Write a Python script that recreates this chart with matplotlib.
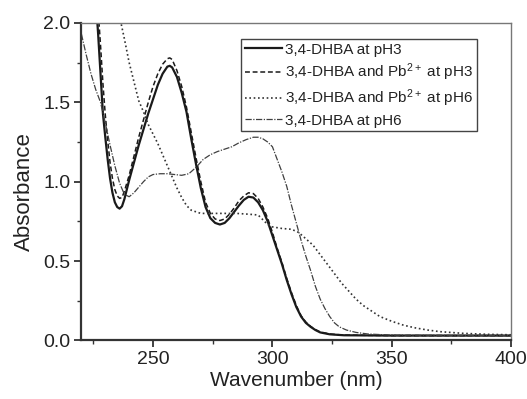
import matplotlib
matplotlib.use("Agg")
import matplotlib.pyplot as plt
from matplotlib.ticker import MultipleLocator

plt.rcParams['font.family'] = ['Liberation Sans', 'DejaVu Sans']
plt.rcParams['mathtext.fontset'] = 'custom'
plt.rcParams['mathtext.rm'] = 'Liberation Sans'
plt.rcParams['mathtext.it'] = 'Liberation Sans'

# --- UV-Vis spectra of 3,4-DHBA (wavelength in nm, absorbance) ---
wl_ph3 = [220, 222, 224, 226, 227, 228, 229, 230, 231, 232, 233, 234, 235, 236, 237,
          238, 239, 240, 242, 244, 246, 248, 250, 252, 254, 256, 257, 258, 260, 262,
          264, 266, 268, 270, 272, 274, 276, 278, 280, 282, 284, 286, 288, 290, 292,
          294, 296, 298, 300, 302, 304, 306, 308, 310, 312, 314, 316, 318, 320, 324,
          330, 350, 400]
abs_ph3 = [3.5, 3.1, 2.6, 2.15, 1.93, 1.68, 1.43, 1.28, 1.14, 1.02, 0.93, 0.87, 0.84,
           0.83, 0.845, 0.89, 0.95, 1.01, 1.12, 1.23, 1.33, 1.43, 1.52, 1.61, 1.68,
           1.725, 1.73, 1.72, 1.66, 1.56, 1.44, 1.27, 1.11, 0.96, 0.84, 0.77, 0.74,
           0.73, 0.74, 0.77, 0.81, 0.85, 0.885, 0.905, 0.90, 0.87, 0.82, 0.75, 0.66,
           0.57, 0.48, 0.38, 0.29, 0.21, 0.15, 0.11, 0.085, 0.065, 0.05, 0.038, 0.032,
           0.03, 0.03]

wl_pb_ph3 = [220, 222, 224, 226, 227, 228, 229, 230, 231, 232, 233, 234, 235, 236, 237,
             238, 239, 240, 242, 244, 246, 248, 250, 252, 254, 256, 257, 258, 260, 262,
             264, 266, 268, 270, 272, 274, 276, 278, 280, 282, 284, 286, 288, 290, 292,
             294, 296, 298, 300, 302, 304, 306, 308, 310, 312, 314, 316, 318, 320, 324,
             330, 350, 400]
abs_pb_ph3 = [3.5, 3.15, 2.7, 2.3, 2.08, 1.86, 1.62, 1.42, 1.26, 1.12, 1.02, 0.95, 0.91,
              0.895, 0.90, 0.94, 0.99, 1.04, 1.16, 1.28, 1.39, 1.50, 1.60, 1.68, 1.74,
              1.775, 1.78, 1.77, 1.70, 1.60, 1.47, 1.31, 1.15, 1.00, 0.87, 0.80, 0.765,
              0.755, 0.765, 0.795, 0.835, 0.88, 0.91, 0.93, 0.925, 0.895, 0.84, 0.77,
              0.68, 0.58, 0.49, 0.39, 0.30, 0.22, 0.155, 0.115, 0.088, 0.068, 0.053,
              0.04, 0.033, 0.03, 0.03]

wl_pb_ph6 = [220, 224, 228, 232, 236, 238, 240, 242, 244, 246, 248, 250, 252, 254, 256,
             258, 260, 262, 264, 266, 268, 270, 275, 280, 285, 290, 294, 296, 298, 300,
             304, 308, 311, 314, 317, 320, 323, 326, 329, 332, 335, 338, 341, 345, 350,
             355, 360, 365, 370, 380, 390, 400]
abs_pb_ph6 = [3.05, 2.8, 2.55, 2.3, 2.04, 1.90, 1.75, 1.63, 1.51, 1.44, 1.36, 1.30, 1.24,
              1.17, 1.10, 1.03, 0.96, 0.90, 0.85, 0.82, 0.81, 0.80, 0.80, 0.80, 0.80,
              0.795, 0.79, 0.76, 0.73, 0.715, 0.705, 0.70, 0.68, 0.64, 0.60, 0.54, 0.48,
              0.42, 0.36, 0.31, 0.26, 0.22, 0.19, 0.15, 0.12, 0.095, 0.078, 0.065, 0.055,
              0.044, 0.038, 0.035]

wl_ph6 = [220, 222, 224, 226, 228, 230, 232, 234, 236, 238, 240, 242, 244, 246, 248,
          250, 253, 256, 259, 262, 265, 268, 271, 274, 277, 280, 283, 286, 289, 292,
          294, 296, 298, 300, 302, 304, 306, 308, 310, 312, 314, 316, 318, 320, 322,
          324, 326, 328, 331, 335, 340, 350, 400]
abs_ph6 = [1.93, 1.80, 1.68, 1.58, 1.50, 1.37, 1.23, 1.10, 0.99, 0.92, 0.905, 0.93,
           0.965, 1.00, 1.03, 1.045, 1.05, 1.05, 1.045, 1.04, 1.05, 1.09, 1.14, 1.17,
           1.19, 1.205, 1.22, 1.245, 1.265, 1.28, 1.28, 1.27, 1.25, 1.22, 1.14, 1.06,
           0.97, 0.85, 0.74, 0.63, 0.53, 0.44, 0.34, 0.26, 0.20, 0.15, 0.11, 0.085,
           0.065, 0.05, 0.04, 0.033, 0.03]

labels = ["3,4-DHBA at pH3",
          "3,4-DHBA and Pb$^{2+}$ at pH3",
          "3,4-DHBA and Pb$^{2+}$ at pH6",
          "3,4-DHBA at pH6"]

x_ticks = [250, 300, 350, 400]
y_ticks = [0.0, 0.5, 1.0, 1.5, 2.0]

fig = plt.figure(figsize=(5.27, 3.99), dpi=100)
ax = fig.add_axes([0.1545, 0.147, 0.8155, 0.7954])

ink = '#1a1a1a'
ax.plot(wl_ph3, abs_ph3, color=ink, lw=1.6, ls='-', label=labels[0])
ax.plot(wl_pb_ph3, abs_pb_ph3, color=ink, lw=1.1, ls=(0, (3.2, 1.8)), label=labels[1])
ax.plot(wl_pb_ph6, abs_pb_ph6, color='#333333', lw=1.2, ls=(0, (1, 1.6)), label=labels[2])
ax.plot(wl_ph6, abs_ph6, color='#404040', lw=0.9, ls=(0, (5, 1.2, 1, 1.2)), label=labels[3])

ax.set_xlim(220, 400)
ax.set_ylim(0, 2.0)
ax.set_xticks(x_ticks)
ax.set_yticks(y_ticks)
ax.set_yticklabels([f"{v:.1f}" for v in y_ticks])
ax.xaxis.set_minor_locator(MultipleLocator(25))
ax.yaxis.set_minor_locator(MultipleLocator(0.25))

ax.tick_params(which='major', direction='out', length=5, width=1.3, labelsize=14,
               colors='#333333', labelcolor='#222222', pad=3)
ax.tick_params(which='minor', direction='out', length=3, width=1.0, colors='#333333')
ax.tick_params(top=False, right=False, which='both')

for side in ('left', 'bottom'):
    ax.spines[side].set_linewidth(1.6)
    ax.spines[side].set_color('#333333')
for side in ('top', 'right'):
    ax.spines[side].set_linewidth(1.0)
    ax.spines[side].set_color('#777777')

ax.set_xlabel("Wavenumber (nm)", fontsize=15, color='#222222', labelpad=2)
ax.set_ylabel("Absorbance", fontsize=16, color='#222222')
ax.yaxis.set_label_coords(-0.108, 0.47)

leg = ax.legend(loc='upper right', bbox_to_anchor=(0.921, 0.95), borderaxespad=0,
                fontsize=11, handlelength=2.4, handletextpad=0.25, labelspacing=0.3,
                borderpad=0.25, fancybox=False, frameon=True, framealpha=1)
leg.get_frame().set_edgecolor('#444444')
leg.get_frame().set_linewidth(1.0)
for t in leg.get_texts():
    t.set_color('#222222')

fig.savefig("out.png", dpi=100)
